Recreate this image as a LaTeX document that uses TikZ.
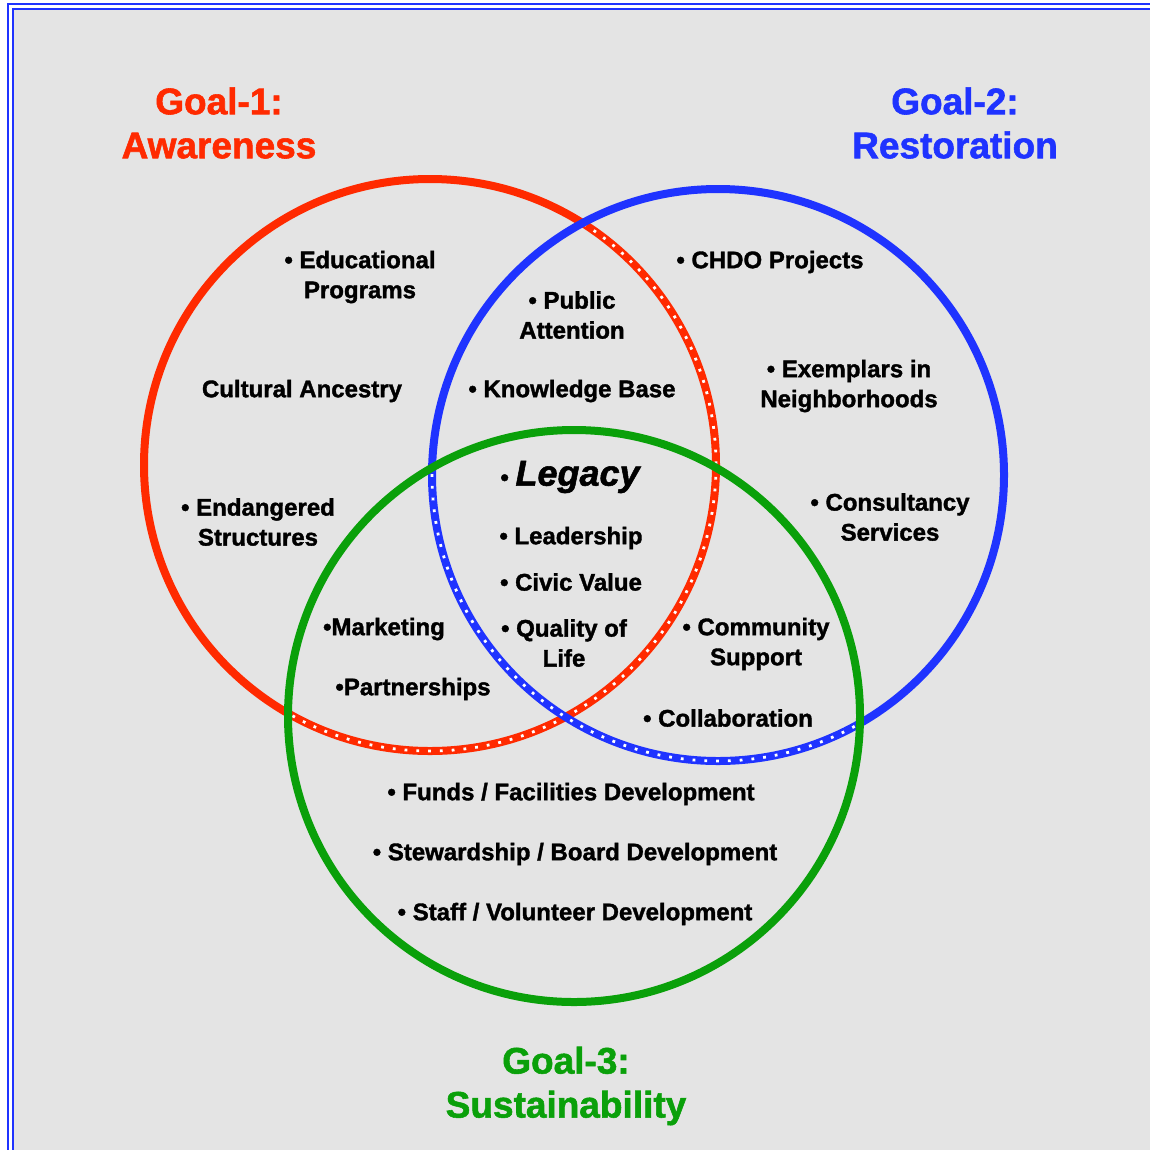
\documentclass[tikz,border=0pt]{standalone}
\usepackage{fontspec}
\setmainfont{Liberation Sans}[BoldFeatures={FakeBold=1.5}, BoldItalicFeatures={FakeBold=1.5}]
\usepackage{tikz}
\definecolor{goalred}{HTML}{FF2A00}
\definecolor{goalblue}{HTML}{1F33FF}
\definecolor{goalgreen}{HTML}{0AA00A}
\definecolor{checker}{HTML}{E4E4E4}

\begin{document}
\begin{tikzpicture}[x=1pt, y=-1pt,
    every node/.style={font=\fontsize{24}{30}\selectfont\bfseries, align=center, inner sep=0pt},
    goal/.style={font=\fontsize{37}{44}\selectfont\bfseries},
    ring/.style={line width=8pt},
    ringdots/.style={white, line width=2.8pt, dash pattern=on 2.8pt off 9pt}]
  \useasboundingbox (0,0) rectangle (1150,1149);
  \clip (0,0) rectangle (1150,1149);
  % sheet with a double blue rule, cut off at right and bottom
  \fill[white] (0,0) rectangle (1150,1149);
  \fill[checker] (14,10) rectangle (1160,1160);
  \draw[goalblue, line width=2pt] (8,1160) -- (8,4) -- (1160,4);
  \draw[goalblue, line width=2pt] (13,1160) -- (13,9) -- (1160,9);

  % circle centres
  \coordinate (awareness) at (430,465);
  \coordinate (restoration) at (718,475);
  \coordinate (sustain) at (574,716);

  % Goal-1 ring, dotted where it runs inside the other two
  \draw[goalred, ring] (awareness) circle[radius=286];
  \begin{scope}
    \clip (restoration) circle[radius=286] (sustain) circle[radius=286];
    \draw[ringdots] (awareness) circle[radius=286];
  \end{scope}
  % Goal-2 ring, dotted inside Goal-3
  \draw[goalblue, ring] (restoration) circle[radius=286];
  \begin{scope}
    \clip (sustain) circle[radius=286];
    \draw[ringdots] (restoration) circle[radius=286];
  \end{scope}
  % Goal-3 ring
  \draw[goalgreen, ring] (sustain) circle[radius=286];

  % goal titles
  \node[goal, text=goalred] (goalone) at (219,123) {Goal-1:\\Awareness};
  \node[goal, text=goalblue] (goaltwo) at (955,123) {Goal-2:\\Restoration};
  \node[goal, text=goalgreen] (goalthree) at (566,1086) {Goal-3:\\Sustainability};

  % awareness only
  \node (eduprog) at (360,277) {\textbullet\ Educational\\Programs};
  \node (ancestry) at (302,391) {Cultural Ancestry};
  \node (endanger) at (258,522) {\textbullet\ Endangered\\Structures};
  % awareness + restoration
  \node (pubattn) at (572,315) {\textbullet\ Public\\Attention};
  \node (knowbase) at (572,391) {\textbullet\ Knowledge Base};
  % restoration only
  \node (chdo) at (770,262) {\textbullet\ CHDO Projects};
  \node (exemplars) at (849,386) {\textbullet\ Exemplars in\\Neighborhoods};
  \node (consult) at (890,517) {\textbullet\ Consultancy\\Services};
  % all three
  \node (legacy) at (570,477) {\textbullet\ {\fontsize{36}{44}\selectfont\itshape Legacy}};
  \node (leader) at (571,538) {\textbullet\ Leadership};
  \node (civic) at (571,582) {\textbullet\ Civic Value};
  \node (quality) at (564,643) {\textbullet\ Quality of\\Life};
  % awareness + sustainability
  \node (market) at (384,629) {\textbullet Marketing};
  \node (partner) at (413,689) {\textbullet Partnerships};
  % restoration + sustainability
  \node (community) at (756,644) {\textbullet\ Community\\Support};
  \node (collab) at (728,718) {\textbullet\ Collaboration};
  % sustainability only
  \node (funds) at (571,794) {\textbullet\ Funds / Facilities Development};
  \node (steward) at (575,854) {\textbullet\ Stewardship / Board Development};
  \node (staff) at (575,914) {\textbullet\ Staff / Volunteer Development};
\end{tikzpicture}
\end{document}
